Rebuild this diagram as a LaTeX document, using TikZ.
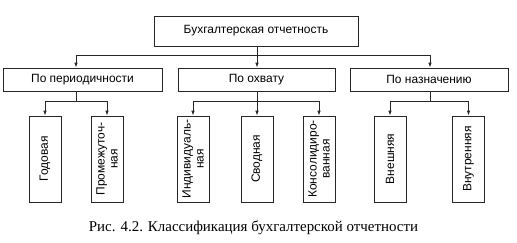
\documentclass[tikz,border=0pt]{standalone}
\usepackage{fontspec}
\setmainfont{Liberation Sans}
\newfontfamily\capfont{Liberation Serif}
\usetikzlibrary{arrows.meta}
\begin{document}
\begin{tikzpicture}[x=1bp,y=-1bp,
  box/.style={draw=black!85, line width=0.8pt, inner sep=0pt, font=\fontsize{12}{14}\selectfont},
  vbox/.style={box, rotate=90, minimum width=86bp, minimum height=32bp, align=center, font=\fontsize{12}{13}\selectfont},
  conn/.style={draw=black!85, line width=0.8pt},
  arr/.style={conn, -{Latex[length=5pt,width=3.5pt]}}]
\useasboundingbox (0,0) rectangle (517,242);
% top
\node[box, minimum width=204bp, minimum height=30bp] (top) at (256,31) {Бухгалтерская отчетность};
% level 2
\node[box, minimum width=159bp, minimum height=23bp] (A) at (82.5,79.5) {По периодичности};
\node[box, minimum width=157bp, minimum height=23bp] (B) at (256.5,79.5) {По охвату};
\node[box, minimum width=158bp, minimum height=23bp] (C) at (429,79.5) {По назначению};
% level 3
\node[vbox] (a1) at (45,159) {Годовая};
\node[vbox] (a2) at (107,159) {Промежуточ-\\ная};
\node[vbox] (b1) at (193,159) {Индивидуаль-\\ная};
\node[vbox] (b2) at (257,159) {Сводная};
\node[vbox] (b3) at (319,159) {Консолидиро-\\ванная};
\node[vbox] (c1) at (390,159) {Внешняя};
\node[vbox] (c2) at (468.5,159) {Внутренняя};
% bus coordinates
\coordinate (busL) at (76,55);
\coordinate (busM) at (257,55);
\coordinate (busR) at (430,55);
\coordinate (dA) at (76,101);
\coordinate (dB) at (257,101);
\coordinate (dC) at (430,101);
% connectors top
\draw[conn] (top.south -| busM) -- (busM);
\draw[conn] (busL) -- (busR);
\draw[arr] (busL) -- (busL |- A.north);
\draw[arr] (busM) -- (busM |- B.north);
\draw[arr] (busR) -- (busR |- C.north);
% A children
\draw[conn] (dA |- A.south) -- (dA);
\draw[conn] (a1.east |- dA) -- (a2.east |- dA);
\draw[arr] (a1.east |- dA) -- (a1.east);
\draw[arr] (a2.east |- dA) -- (a2.east);
% B children
\draw[conn] (dB |- B.south) -- (dB);
\draw[conn] (b1.east |- dB) -- (b3.east |- dB);
\draw[arr] (b1.east |- dB) -- (b1.east);
\draw[arr] (dB) -- (b2.east);
\draw[arr] (b3.east |- dB) -- (b3.east);
% C children
\draw[conn] (dC |- C.south) -- (dC);
\draw[conn] (c1.east |- dC) -- (c2.east |- dC);
\draw[arr] (c1.east |- dC) -- (c1.east);
\draw[arr] (c2.east |- dC) -- (c2.east);
% caption
\node[font=\capfont\fontsize{15}{17}\selectfont] (cap) at (253.5,228) {Рис. 4.2. Классификация бухгалтерской отчетности};
\end{tikzpicture}
\end{document}
